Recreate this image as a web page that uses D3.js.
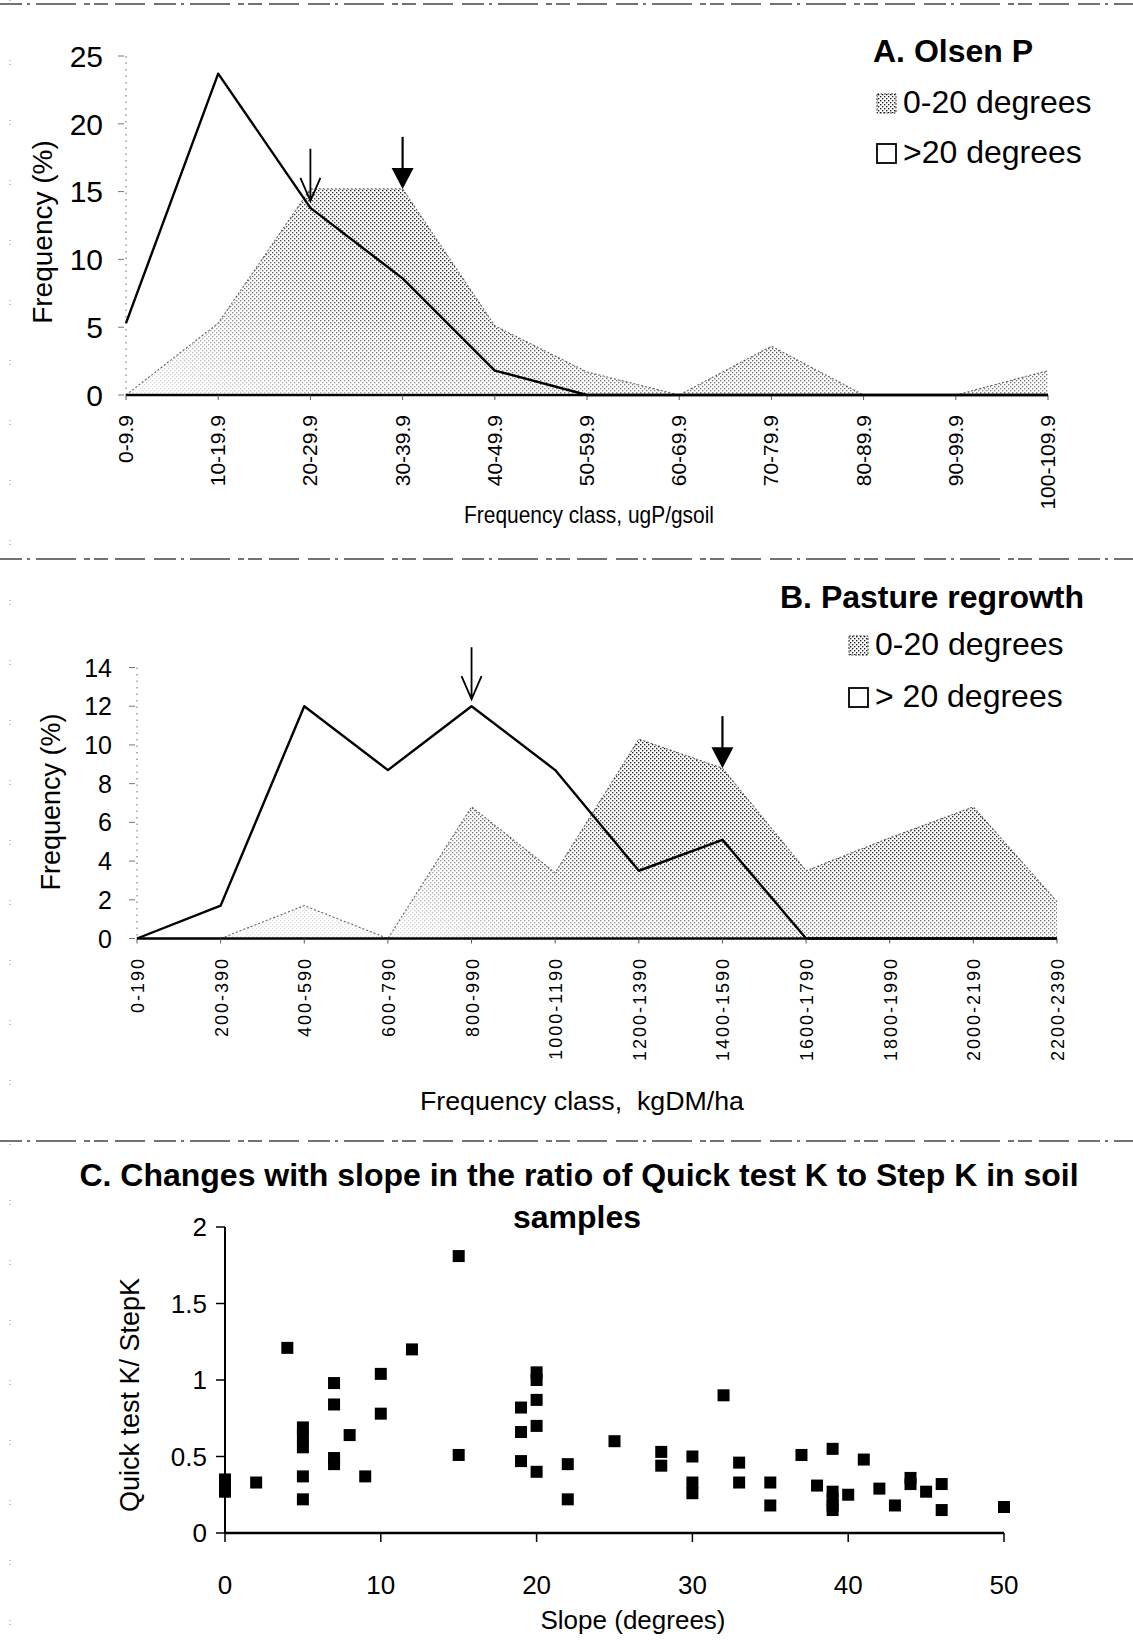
<!DOCTYPE html>
<html><head><meta charset="utf-8">
<script src="https://cdn.jsdelivr.net/npm/d3@7"></script>
<style>
html,body{margin:0;padding:0;background:#fff;}
svg{display:block;}
text{font-family:"Liberation Sans",Arial,Helvetica,sans-serif;fill:#000;}
</style></head><body>
<svg id="fig" width="1133" height="1648"></svg>
<script>
// ---- Panel A: Olsen P frequency distribution (ugP/g soil) ----
const olsenClasses = ["0-9.9","10-19.9","20-29.9","30-39.9","40-49.9","50-59.9","60-69.9","70-79.9","80-89.9","90-99.9","100-109.9"];
const olsenGentle = [0, 5.3, 15.2, 15.2, 5.1, 1.7, 0, 3.6, 0, 0, 1.8];      // 0-20 degrees
const olsenSteep  = [5.3, 23.7, 13.8, 8.6, 1.8, 0, 0, 0, 0, 0, 0];          // >20 degrees
const olsenTicks  = [0, 5, 10, 15, 20, 25];
const olsenMedians = [{cls: "20-29.9", group: "steep"}, {cls: "30-39.9", group: "gentle"}];

// ---- Panel B: pasture regrowth frequency distribution (kgDM/ha) ----
const regrowthClasses = ["0-190","200-390","400-590","600-790","800-990","1000-1190","1200-1390","1400-1590","1600-1790","1800-1990","2000-2190","2200-2390"];
const regrowthGentle = [0, 0, 1.7, 0, 6.8, 3.4, 10.3, 8.8, 3.5, 5.2, 6.8, 1.9];
const regrowthSteep  = [0, 1.7, 12.0, 8.7, 12.0, 8.7, 3.5, 5.1, 0, 0, 0, 0];
const regrowthTicks  = [0, 2, 4, 6, 8, 10, 12, 14];
const regrowthMedians = [{cls: "800-990", group: "steep"}, {cls: "1400-1590", group: "gentle"}];

// ---- Panel C: Quick test K / Step K against slope ----
const slopeDeg = [0,0,0,2,4,5,5,5,5,5,7,7,7,7,8,9,10,10,12,15,15,19,19,19,20,20,20,20,20,22,22,25,28,28,30,30,30,32,33,33,35,35,37,38,39,39,39,39,39,40,41,42,43,44,44,45,46,46,50];
const kRatio   = [0.27,0.31,0.35,0.33,1.21,0.69,0.63,0.56,0.37,0.22,0.98,0.84,0.49,0.45,0.64,0.37,1.04,0.78,1.2,1.81,0.51,0.82,0.66,0.47,1.05,1.0,0.87,0.70,0.40,0.45,0.22,0.60,0.53,0.44,0.50,0.33,0.26,0.90,0.46,0.33,0.33,0.18,0.51,0.31,0.55,0.27,0.22,0.18,0.15,0.25,0.48,0.29,0.18,0.36,0.32,0.27,0.32,0.15,0.17];
const slopeTicks = [0, 10, 20, 30, 40, 50];
const ratioTicks = [0, 0.5, 1, 1.5, 2];

const legendLabels = ["0-20 degrees", ">20 degrees"];
const legendLabelsB = ["0-20 degrees", "> 20 degrees"];

const svg = d3.select("#fig");
const defs = svg.append("defs");

// halftone stipple used for the 0-20 degree areas
const pat = defs.append("pattern").attr("id", "stip")
  .attr("width", 4).attr("height", 4).attr("patternUnits", "userSpaceOnUse");
pat.append("rect").attr("width", 4).attr("height", 4).attr("fill", "#fff");
pat.append("rect").attr("x", 0).attr("y", 0).attr("width", 1.35).attr("height", 1.35).attr("fill", "#1a1a1a");
pat.append("rect").attr("x", 2).attr("y", 2).attr("width", 1.35).attr("height", 1.35).attr("fill", "#1a1a1a");

// frame rules between the panels
function rule(y) {
  svg.append("line").attr("x1", 0).attr("x2", 1133).attr("y1", y).attr("y2", y)
    .attr("stroke", "#444").attr("stroke-width", 1.3)
    .attr("stroke-dasharray", "22,5,3,6,40,8,6,4,14,7,30,9");
}
rule(4); rule(559); rule(1141);
svg.append("line").attr("x1", 10).attr("x2", 10).attr("y1", 0).attr("y2", 1648)
  .attr("stroke", "#888").attr("stroke-width", 1).attr("stroke-dasharray", "1,3,1,55");

function arrow(g, x, tip, kind) {
  if (kind === "open") {
    g.append("path").attr("d", `M${x},${tip - 52}L${x},${tip}M${x - 10},${tip - 23}L${x},${tip}L${x + 10},${tip - 23}`)
      .attr("fill", "none").attr("stroke", "#000").attr("stroke-width", 1.8);
  } else {
    g.append("path").attr("d", `M${x},${tip - 52}L${x},${tip - 20}`)
      .attr("stroke", "#000").attr("stroke-width", 2.2);
    g.append("path").attr("d", `M${x - 11},${tip - 21}L${x + 11},${tip - 21}L${x},${tip}Z`).attr("fill", "#000");
  }
}

function gradientMask(id, x1, y1, x2, y2, stops) {
  const grad = defs.append("linearGradient").attr("id", "g" + id)
    .attr("gradientUnits", "userSpaceOnUse")
    .attr("x1", x1).attr("y1", y1).attr("x2", x2).attr("y2", y2);
  stops.forEach(([o, c]) => grad.append("stop").attr("offset", o).attr("stop-color", c));
  const mask = defs.append("mask").attr("id", id).attr("maskUnits", "userSpaceOnUse")
    .attr("x", 0).attr("y", 0).attr("width", 1133).attr("height", 1648);
  mask.append("rect").attr("width", 1133).attr("height", 1648).attr("fill", `url(#g${id})`);
}

function freqPanel(o) {
  const g = svg.append("g");
  const x = d3.scalePoint().domain(o.classes).range(o.xRange);
  const y = d3.scaleLinear().domain([0, d3.max(o.ticks)]).range(o.yRange);
  const idx = d3.range(o.classes.length);

  // the print's halftone is lighter towards the base and towards the left
  gradientMask("v" + o.id, 0, y(d3.max(o.gentle)), 0, y(0), [[0, "#fff"], [0.6, "#e8e8e8"], [1, "#8a8a8a"]]);
  gradientMask("d" + o.id, o.fade[0], o.fade[1], o.fade[2], o.fade[3], [[0, "#3a3a3a"], [0.55, "#c8c8c8"], [1, "#fff"]]);

  const area = d3.area().x(i => x(o.classes[i])).y0(y(0)).y1(i => y(o.gentle[i]));
  g.append("g").attr("mask", `url(#v${o.id})`)
    .append("path").attr("d", area(idx)).attr("fill", "url(#stip)").attr("mask", `url(#d${o.id})`);
  const top = d3.line().x(i => x(o.classes[i])).y(i => y(o.gentle[i]));
  g.append("path").attr("d", top(idx)).attr("fill", "none").attr("stroke", "#333")
    .attr("stroke-width", 1.1).attr("stroke-dasharray", "2,2").attr("opacity", 0.75);

  // y axis (faint dotted in the original print)
  const x0 = o.xRange[0];
  g.append("line").attr("x1", x0).attr("x2", x0).attr("y1", y(d3.max(o.ticks))).attr("y2", y(0))
    .attr("stroke", "#666").attr("stroke-width", 1).attr("stroke-dasharray", "1.5,5");
  g.selectAll(".yt").data(o.ticks).join("line")
    .attr("x1", x0 - 8).attr("x2", x0 - 2).attr("y1", d => y(d)).attr("y2", d => y(d))
    .attr("stroke", "#777").attr("stroke-width", 1);
  g.selectAll(".yl").data(o.ticks).join("text")
    .attr("x", o.tickRight).attr("y", d => y(d)).attr("dy", "0.36em")
    .attr("text-anchor", "end").attr("font-size", o.tickSize).text(d => d);

  // baseline
  g.append("line").attr("x1", o.xRange[0]).attr("x2", o.xRange[1]).attr("y1", y(0)).attr("y2", y(0))
    .attr("stroke", "#000").attr("stroke-width", 2.4);
  g.selectAll(".xt").data(o.classes).join("line")
    .attr("x1", d => x(d)).attr("x2", d => x(d)).attr("y1", y(0)).attr("y2", y(0) + 5)
    .attr("stroke", "#555").attr("stroke-width", 1);

  // >20 degree line
  const line = d3.line().x(i => x(o.classes[i])).y(i => y(o.steep[i]));
  g.append("path").attr("d", line(idx)).attr("fill", "none").attr("stroke", "#000")
    .attr("stroke-width", 2.4).attr("stroke-linejoin", "round");

  // class labels
  g.selectAll(".xl").data(o.classes).join("text")
    .attr("transform", d => `translate(${x(d) + o.labelShift},${o.labelTop}) rotate(-90)`)
    .attr("text-anchor", "end").attr("font-size", o.labelSize)
    .attr("letter-spacing", o.labelSpacing).text(d => d);

  // axis titles
  g.append("text").attr("transform", `translate(${o.yTitleX},${o.yTitleY}) rotate(-90)`)
    .attr("text-anchor", "middle").attr("font-size", o.yTitleSize).text("Frequency (%)");
  g.append("text").attr("x", o.xTitleX).attr("y", o.xTitleY).attr("text-anchor", "middle")
    .attr("font-size", o.xTitleSize).attr("textLength", o.xTitleLen).attr("lengthAdjust", "spacingAndGlyphs")
    .text(o.xTitle);

  // medians
  o.medians.forEach(m => {
    const i = o.classes.indexOf(m.cls);
    if (m.group === "steep") arrow(g, x(m.cls), y(o.steep[i]) - 7, "open");
    else arrow(g, x(m.cls), y(o.gentle[i]), "solid");
  });

  // title + legend
  g.append("text").attr("x", o.titleX).attr("y", o.titleY).attr("font-size", 32)
    .attr("font-weight", "bold").text(o.title);
  o.legend.forEach((lab, k) => {
    const ly = o.legY[k];
    g.append("rect").attr("x", o.legX).attr("y", ly - 19).attr("width", 19).attr("height", 19)
      .attr("fill", k === 0 ? "url(#stip)" : "#fff").attr("stroke", "#000")
      .attr("stroke-width", k === 0 ? 0.8 : 1.8).attr("stroke-dasharray", k === 0 ? "2,1.5" : null);
    g.append("text").attr("x", o.legX + 26).attr("y", ly).attr("font-size", 32).text(lab);
  });
}

freqPanel({
  id: "A", classes: olsenClasses, gentle: olsenGentle, steep: olsenSteep, ticks: olsenTicks,
  xRange: [126, 1048], yRange: [395, 56], medians: olsenMedians, fade: [150, 395, 420, 190],
  tickRight: 103, tickSize: 30, labelTop: 415, labelShift: 7, labelSize: 21, labelSpacing: 0,
  yTitleX: 52, yTitleY: 232, yTitleSize: 28,
  xTitle: "Frequency class, ugP/gsoil", xTitleX: 589, xTitleY: 523, xTitleSize: 24, xTitleLen: 250,
  title: "A. Olsen P", titleX: 873, titleY: 62, legend: legendLabels, legX: 877, legY: [113, 163]
});

freqPanel({
  id: "B", classes: regrowthClasses, gentle: regrowthGentle, steep: regrowthSteep, ticks: regrowthTicks,
  xRange: [137, 1057], yRange: [938.5, 667.5], medians: regrowthMedians, fade: [380, 940, 660, 760],
  tickRight: 112, tickSize: 25, labelTop: 957, labelShift: 7, labelSize: 18, labelSpacing: 2,
  yTitleX: 60, yTitleY: 802, yTitleSize: 27,
  xTitle: "Frequency class,\u00a0 kgDM/ha", xTitleX: 582, xTitleY: 1110, xTitleSize: 26, xTitleLen: 324,
  title: "B. Pasture regrowth", titleX: 780, titleY: 608, legend: legendLabelsB, legX: 849, legY: [655, 707]
});

// ---- Panel C ----
(function () {
  const g = svg.append("g");
  const x = d3.scaleLinear().domain([0, 50]).range([225, 1004]);
  const y = d3.scaleLinear().domain([0, 2]).range([1533, 1227]);

  g.append("text").attr("x", 579).attr("y", 1186).attr("text-anchor", "middle")
    .attr("font-size", 32).attr("font-weight", "bold")
    .text("C. Changes with slope in the ratio of Quick test K to Step K in soil");
  g.append("text").attr("x", 577).attr("y", 1228).attr("text-anchor", "middle")
    .attr("font-size", 32).attr("font-weight", "bold").text("samples");

  g.append("line").attr("x1", x(0)).attr("x2", x(0)).attr("y1", y(2)).attr("y2", y(0))
    .attr("stroke", "#000").attr("stroke-width", 2);
  g.append("line").attr("x1", x(0)).attr("x2", x(50)).attr("y1", y(0)).attr("y2", y(0))
    .attr("stroke", "#000").attr("stroke-width", 2.4);
  g.selectAll(".yt").data(ratioTicks).join("line")
    .attr("x1", x(0) - 9).attr("x2", x(0)).attr("y1", d => y(d)).attr("y2", d => y(d))
    .attr("stroke", "#000").attr("stroke-width", 1.5);
  g.selectAll(".xt").data(slopeTicks).join("line")
    .attr("x1", d => x(d)).attr("x2", d => x(d)).attr("y1", y(0)).attr("y2", y(0) + 9)
    .attr("stroke", "#000").attr("stroke-width", 1.5);
  g.selectAll(".yl").data(ratioTicks).join("text")
    .attr("x", 207).attr("y", d => y(d)).attr("dy", "0.36em").attr("text-anchor", "end")
    .attr("font-size", 26).text(d => d);
  g.selectAll(".xl").data(slopeTicks).join("text")
    .attr("x", d => x(d)).attr("y", 1594).attr("text-anchor", "middle")
    .attr("font-size", 26).text(d => d);

  g.append("text").attr("transform", "translate(139,1395) rotate(-90)").attr("text-anchor", "middle")
    .attr("font-size", 27).text("Quick test K/ StepK");
  g.append("text").attr("x", 633).attr("y", 1629).attr("text-anchor", "middle")
    .attr("font-size", 26).text("Slope (degrees)");

  g.selectAll(".pt").data(d3.range(slopeDeg.length)).join("rect")
    .attr("x", i => x(slopeDeg[i]) - 6).attr("y", i => y(kRatio[i]) - 6)
    .attr("width", 12).attr("height", 12).attr("fill", "#000");
})();
</script>
</body></html>
